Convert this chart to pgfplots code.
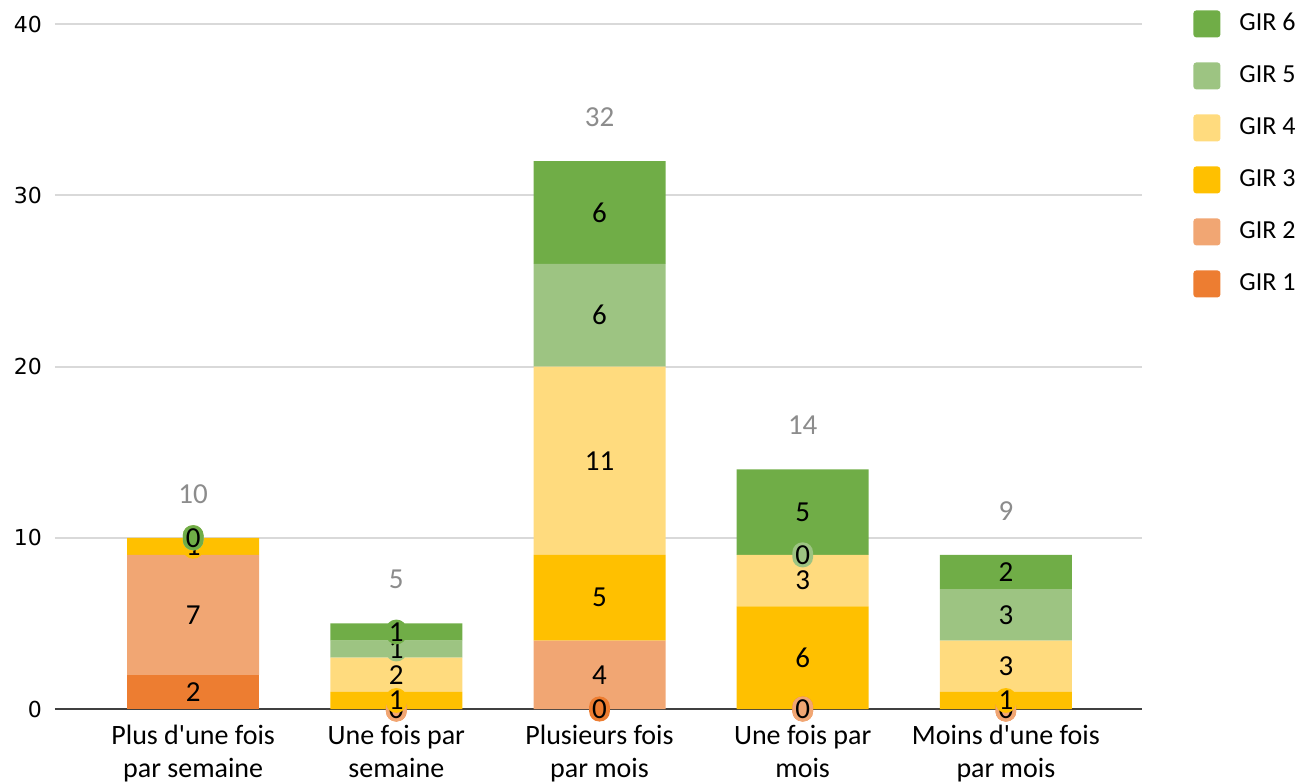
\documentclass[border=0pt]{standalone}
\usepackage{pgfplots}
\pgfplotsset{compat=1.18}
\usepackage{fontspec}
\setmainfont{Carlito}[Ligatures=TeXOff]
\newfontfamily\tickfont{DejaVu Sans}
\definecolor{gir1}{HTML}{ED7D31}
\definecolor{gir2}{HTML}{F1A673}
\definecolor{gir3}{HTML}{FFC000}
\definecolor{gir4}{HTML}{FFDB7E}
\definecolor{gir5}{HTML}{9DC482}
\definecolor{gir6}{HTML}{70AD47}
\definecolor{gridc}{HTML}{D9D9D9}
\definecolor{axisc}{HTML}{404040}
\definecolor{totc}{HTML}{8C8C8C}
\newcommand{\datafont}{\fontsize{14.5}{16}\selectfont}
\pgfplotsset{
  labelplot/.style={draw=none, mark=none, nodes near coords, point meta=explicit symbolic,
    every node near coord/.append style={anchor=center, fill=#1, rounded corners=5pt,
      inner xsep=1.5pt, inner ysep=1.5pt, font=\datafont, text=black}},
  common/.style={at={(0,0)}, anchor=south west, scale only axis, width=543.5pt, height=342.5pt,
    xmin=-0.68, xmax=4.67, ymin=0, ymax=40}
}
\begin{document}
\begin{tikzpicture}
\path[use as bounding box] (-27.5pt,-37pt) rectangle (623.5pt,354.5pt);
\begin{axis}[common,
  ybar stacked, bar width=66pt,
  axis x line*=bottom, axis y line*=left,
  y axis line style={draw=none},
  x axis line style={draw=axisc, line width=1pt},
  xtick={0,1,2,3,4},
  xticklabels={{Plus d'une fois\\par semaine},{Une fois par\\semaine},{Plusieurs fois\\par mois},{Une fois par\\mois},{Moins d'une fois\\par mois}},
  xticklabel style={align=center, font=\fontsize{14}{16.5}\selectfont, text=black, yshift=-4.5pt},
  xtick style={draw=none}, ytick style={draw=none},
  ytick={0,10,20,30,40}, yticklabels={0,10,20,30,40},
  yticklabel style={font=\tickfont\fontsize{11}{12}\selectfont, text=black, xshift=-3pt},
  ymajorgrids, major grid style={draw=gridc, line width=1pt},
  reverse legend, legend cell align=left,
  legend image code/.code={\fill[#1, draw=none, rounded corners=1.5pt] (0pt,-6.75pt) rectangle (13.5pt,6.75pt);},
  legend style={at={(1.0469,1.0204)}, anchor=north west, draw=none, fill=none, inner sep=0pt,
    row sep=12.5pt, column sep=9.5pt,
    nodes={inner sep=0pt, text height=9pt, text depth=2.5pt, font=\fontsize{13}{15}\selectfont}},
]
\addplot[fill=gir1, draw=none] coordinates {(0,2) (1,0) (2,0) (3,0) (4,0)};
\addplot[fill=gir2, draw=none] coordinates {(0,7) (1,0) (2,4) (3,0) (4,0)};
\addplot[fill=gir3, draw=none] coordinates {(0,1) (1,1) (2,5) (3,6) (4,1)};
\addplot[fill=gir4, draw=none] coordinates {(0,0) (1,2) (2,11) (3,3) (4,3)};
\addplot[fill=gir5, draw=none] coordinates {(0,0) (1,1) (2,6) (3,0) (4,3)};
\addplot[fill=gir6, draw=none] coordinates {(0,0) (1,1) (2,6) (3,5) (4,2)};
\legend{GIR 1,GIR 2,GIR 3,GIR 4,GIR 5,GIR 6}
\end{axis}
\begin{axis}[common, hide axis, clip=false]
\addplot[labelplot=gir1] coordinates {(0,1)[2] (1,0)[0] (2,0)[0] (3,0)[0] (4,0)[0]};
\addplot[labelplot=gir2] coordinates {(0,5.5)[7] (1,0)[0] (2,2)[4] (3,0)[0] (4,0)[0]};
\addplot[labelplot=gir3] coordinates {(0,9.5)[1] (1,0.5)[1] (2,6.5)[5] (3,3)[6] (4,0.5)[1]};
\addplot[labelplot=gir4] coordinates {(0,10)[0] (1,2)[2] (2,14.5)[11] (3,7.5)[3] (4,2.5)[3]};
\addplot[labelplot=gir5] coordinates {(0,10)[0] (1,3.5)[1] (2,23)[6] (3,9)[0] (4,5.5)[3]};
\addplot[labelplot=gir6] coordinates {(0,10)[0] (1,4.5)[1] (2,29)[6] (3,11.5)[5] (4,8)[2]};
\addplot[draw=none, mark=none, nodes near coords, point meta=explicit symbolic,
  every node near coord/.append style={anchor=center, yshift=22pt, text=totc, font=\datafont}]
  coordinates {(0,10)[10] (1,5)[5] (2,32)[32] (3,14)[14] (4,9)[9]};
\end{axis}
\end{tikzpicture}
\end{document}
